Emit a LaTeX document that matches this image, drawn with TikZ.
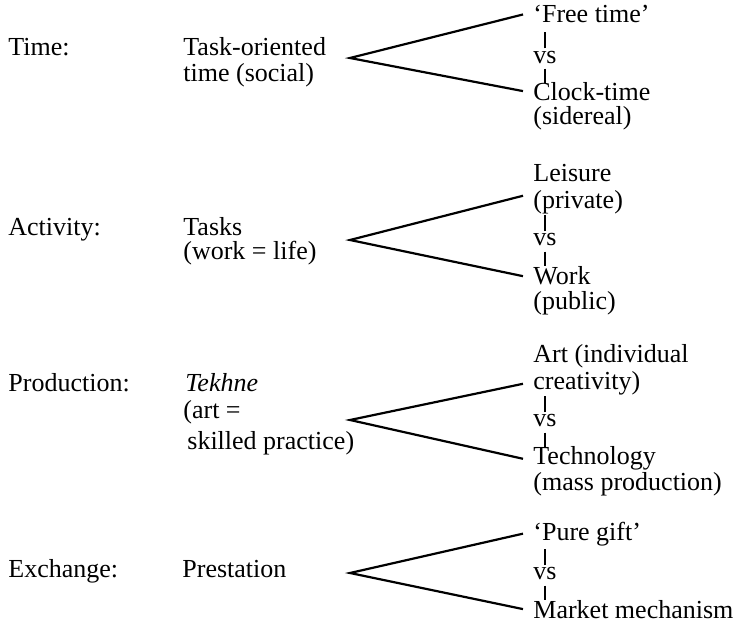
\documentclass[tikz,border=0pt]{standalone}
\usepackage{fontspec}
\setmainfont{Liberation Serif}
\usepackage{tikz}

\tikzset{
  txt/.style={anchor=base west, inner sep=0pt},
  alt/.style={anchor=base west, inner xsep=5pt, inner ysep=0pt},
  arm/.style={line width=1.1pt},
  tick/.style={line width=0.6pt}
}

\begin{document}
\begin{tikzpicture}[x=0.5pt, y=-0.5pt, font=\fontsize{13}{15}\selectfont]
  \useasboundingbox (0,0) rectangle (736,621);

  %% Left column: categories
  \foreach \n/\y/\t in {time/55/Time:, act/235/Activity:, prod/392/Production:, exch/578/Exchange:}{
    \node[txt] (cat\n) at (8,\y) {\t};
  }

  %% Middle column
  \node[txt] (task) at (183,55) {Task-oriented};
  \node[txt] (soc) at (183,82) {time (social)};
  \node[txt] (tasks) at (183,235) {Tasks};
  \node[txt] (wl) at (183,260) {(work = life)};
  \node[txt] (tekh) at (185,392) {\textit{Tekhne}};
  \node[txt] (arteq) at (183,418) {(art =};
  \node[txt] (skill) at (187,450) {skilled practice)};
  \node[txt] (prest) at (182,578) {Prestation};

  %% Apexes of the wedges
  \coordinate (a1) at (350,58);
  \coordinate (a2) at (350,240);
  \coordinate (a3) at (350,420);
  \coordinate (a4) at (350,573);

  %% Right column
  \node[alt] (free) at (523,23) {`Free time'};
  \node[alt] (clock) at (523,100) {Clock-time};
  \node[alt] (side) at (523,125) {(sidereal)};

  \node[alt] (leis) at (523,182) {Leisure};
  \node[alt] (priv) at (523,208) {(private)};
  \node[alt] (work) at (523,285) {Work};
  \node[alt] (publ) at (523,309) {(public)};

  \node[alt] (art) at (523,363) {Art (individual};
  \node[alt] (crea) at (523,390) {creativity)};
  \node[alt] (tech) at (523,465) {Technology};
  \node[alt] (mass) at (523,490) {(mass production)};

  \node[alt] (gift) at (523,540) {`Pure gift'};
  \node[alt] (mark) at (523,618) {Market mechanism};

  %% vs with ticks
  \foreach \r/\y in {1/63, 2/246, 3/427, 4/580}{
    \node[alt] (vs\r) at (523,\y) {vs};
    \draw[tick] ([yshift=1pt]vs\r.north) -- ++(0,8pt);
    \draw[tick] ([yshift=-2.5pt]vs\r.south) -- ++(0,-7pt);
  }

  %% Wedges
  \draw[arm] (free.west) -- (a1) -- (clock.west);
  \draw[arm] ([yshift=3pt]priv.west) -- (a2) -- (work.west);
  \draw[arm] (crea.west) -- (a3) -- (tech.west);
  \draw[arm] (gift.west) -- (a4) -- (mark.west);

\end{tikzpicture}
\end{document}
